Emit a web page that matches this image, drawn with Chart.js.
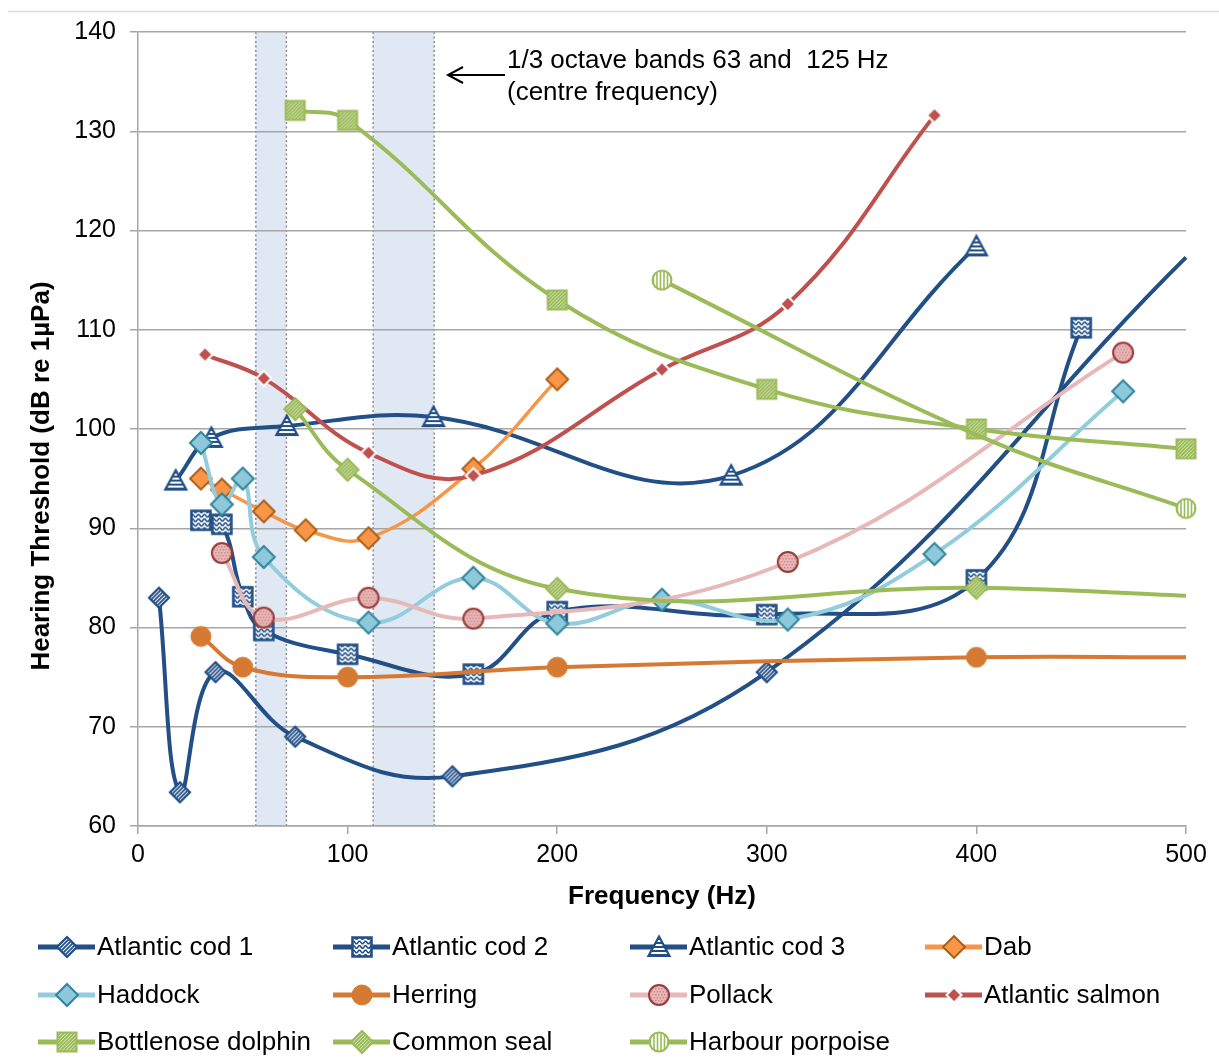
<!DOCTYPE html>
<html><head><meta charset="utf-8">
<script src="https://cdn.jsdelivr.net/npm/chart.js@4.4.1/dist/chart.umd.min.js"></script>
<style>html,body{margin:0;padding:0;background:#fff;}canvas{display:block;}</style>
</head><body>
<canvas id="c" width="1219" height="1057"></canvas>
<script>
// ---------- DATA ----------
const seriesNames = ["Atlantic cod 1","Atlantic cod 2","Atlantic cod 3","Dab","Haddock","Herring","Pollack","Atlantic salmon","Bottlenose dolphin","Common seal","Harbour porpoise"];
const cod1Freq = [10, 20, 37, 75, 150, 300, 500];
const cod1Level = [83, 63.4, 75.5, 69, 65, 75.5, 117.3];
const cod2Freq = [30, 40, 50, 60, 100, 160, 200, 300, 400, 450];
const cod2Level = [90.8, 90.4, 83.1, 79.7, 77.3, 75.3, 81.6, 81.3, 84.8, 110.2];
const cod3Freq = [18, 35, 71, 141, 283, 400];
const cod3Level = [94.8, 99.1, 100.3, 101.2, 95.3, 118.4];
const dabFreq = [30, 40, 60, 80, 110, 160, 200];
const dabLevel = [95, 93.9, 91.7, 89.8, 89, 96, 105];
const haddockFreq = [30, 40, 50, 60, 110, 160, 200, 250, 310, 380, 470];
const haddockLevel = [98.6, 92.4, 95.0, 87.1, 80.5, 85, 80.4, 82.8, 80.8, 87.4, 103.8];
const herringFreq = [30, 50, 100, 200, 400, 500];
const herringLevel = [79.1, 76, 75, 76, 77, 77];
const pollackFreq = [40, 60, 110, 160, 310, 470];
const pollackLevel = [87.5, 81, 83, 80.9, 86.6, 107.7];
const salmonFreq = [32, 60, 110, 160, 250, 310, 380];
const salmonLevel = [107.5, 105.1, 97.6, 95.3, 106, 112.6, 131.6];
const dolphinFreq = [75, 100, 200, 300, 400, 500];
const dolphinLevel = [132.1, 131.1, 113, 104, 100, 98];
const sealFreq = [75, 100, 200, 400, 500];
const sealLevel = [102, 95.9, 83.9, 84, 83.2];
const porpoiseFreq = [250, 400, 500];
const porpoiseLevel = [115, 99.4, 92];
// points whose marker is not visible in the reference (line only)
const unmarkedPoints = {"Atlantic cod 1":[500], "Herring":[500], "Common seal":[500], "Harbour porpoise":[400]};
const xTickValues = [0, 100, 200, 300, 400, 500];
const yTickValues = [60, 70, 80, 90, 100, 110, 120, 130, 140];
const octaveBands = [[56.2, 70.8], [112.2, 141.3]];
const annotationLines = ["1/3 octave bands 63 and  125 Hz", "(centre frequency)"];
const xTitle = "Frequency (Hz)";
const yTitle = "Hearing Threshold (dB re 1µPa)";

// ---------- STYLES ----------
const FONT = "'Liberation Sans', Arial, sans-serif";
const BLUE = '#214F86', GREEN = '#9BBB59';

function mkCanvas(s){const c=document.createElement('canvas');c.width=s;c.height=s;return c;}
function marker(spec){
  const s = spec.size, c = mkCanvas(s), ctx = c.getContext('2d');
  const cx = s/2, cy = s/2, r = spec.r;
  const path = () => {
    ctx.beginPath();
    if (spec.shape==='diamond'){ctx.moveTo(cx,cy-r);ctx.lineTo(cx+r,cy);ctx.lineTo(cx,cy+r);ctx.lineTo(cx-r,cy);ctx.closePath();}
    else if (spec.shape==='square'){ctx.rect(cx-r,cy-r,2*r,2*r);}
    else if (spec.shape==='triangle'){ctx.moveTo(cx,cy-r);ctx.lineTo(cx+r,cy+r*0.85);ctx.lineTo(cx-r,cy+r*0.85);ctx.closePath();}
    else {ctx.arc(cx,cy,r,0,Math.PI*2);}
  };
  path(); ctx.fillStyle = spec.fill; ctx.fill();
  if (spec.pattern){ctx.save();path();ctx.clip();spec.pattern(ctx,s);ctx.restore();}
  if (spec.stroke){path();ctx.lineWidth=spec.lw;ctx.strokeStyle=spec.stroke;ctx.lineJoin='miter';ctx.stroke();}
  return c;
}
const diag = (color,gap,w)=>(ctx,s)=>{ctx.strokeStyle=color;ctx.lineWidth=w;for(let k=-s;k<2*s;k+=gap){ctx.beginPath();ctx.moveTo(k,s);ctx.lineTo(k+s,0);ctx.stroke();}};
const hl = (color,gap,w)=>(ctx,s)=>{ctx.strokeStyle=color;ctx.lineWidth=w;for(let y=1;y<s;y+=gap){ctx.beginPath();ctx.moveTo(0,y);ctx.lineTo(s,y);ctx.stroke();}};
const vl = (color,gap,w)=>(ctx,s)=>{ctx.strokeStyle=color;ctx.lineWidth=w;for(let x=1;x<s;x+=gap){ctx.beginPath();ctx.moveTo(x,0);ctx.lineTo(x,s);ctx.stroke();}};
const waves = (color)=>(ctx,s)=>{ctx.strokeStyle=color;ctx.lineWidth=1.5;for(let y=4;y<s;y+=4.5){ctx.beginPath();for(let x=0;x<=s;x++){const yy=y+1.4*Math.sin(x/3*Math.PI);if(x===0)ctx.moveTo(x,yy);else ctx.lineTo(x,yy);}ctx.stroke();}};
const dots = (color)=>(ctx,s)=>{ctx.fillStyle=color;for(let y=0;y<s;y+=3){for(let x=(y/3)%2*1.5;x<s;x+=3){ctx.fillRect(x,y,1.5,1.5);}}};

const markers = {
  "Atlantic cod 1": marker({size:26,shape:'diamond',r:10,fill:'#fff',pattern:diag(BLUE,4,1.8),stroke:BLUE,lw:2.2}),
  "Atlantic cod 2": marker({size:26,shape:'square',r:9.5,fill:'#fff',pattern:waves(BLUE),stroke:BLUE,lw:2.6}),
  "Atlantic cod 3": marker({size:26,shape:'triangle',r:10.5,fill:'#fff',pattern:hl(BLUE,4,1.8),stroke:BLUE,lw:2.2}),
  "Dab": marker({size:28,shape:'diamond',r:11,fill:'#F79646',stroke:'#A85A14',lw:1.8}),
  "Haddock": marker({size:28,shape:'diamond',r:11,fill:'#8DC9DB',stroke:'#31859C',lw:2}),
  "Herring": marker({size:26,shape:'circle',r:10,fill:'#D67A33',stroke:'#D67A33',lw:1}),
  "Pollack": marker({size:26,shape:'circle',r:10,fill:'#E6B9B8',pattern:dots('#CF8A88'),stroke:'#973A3A',lw:2}),
  "Atlantic salmon": marker({size:20,shape:'diamond',r:7.5,fill:'#C0504D',stroke:'#fff',lw:2}),
  "Bottlenose dolphin": marker({size:26,shape:'square',r:9.5,fill:'#fff',pattern:diag(GREEN,3.5,2),stroke:GREEN,lw:2}),
  "Common seal": marker({size:28,shape:'diamond',r:11,fill:'#fff',pattern:diag(GREEN,3.5,2),stroke:GREEN,lw:2}),
  "Harbour porpoise": marker({size:26,shape:'circle',r:9.5,fill:'#fff',pattern:vl(GREEN,3.5,1.6),stroke:GREEN,lw:2})
};
const lineStyle = {
  "Atlantic cod 1": {color:BLUE,w:4},
  "Atlantic cod 2": {color:BLUE,w:4},
  "Atlantic cod 3": {color:BLUE,w:4},
  "Dab": {color:'#F79646',w:3.5},
  "Haddock": {color:'#93CDDD',w:4},
  "Herring": {color:'#D67A33',w:4},
  "Pollack": {color:'#E6B9B8',w:4},
  "Atlantic salmon": {color:'#C0504D',w:4},
  "Bottlenose dolphin": {color:GREEN,w:4},
  "Common seal": {color:GREEN,w:4},
  "Harbour porpoise": {color:GREEN,w:4}
};
const seriesData = {
  "Atlantic cod 1":[cod1Freq,cod1Level], "Atlantic cod 2":[cod2Freq,cod2Level], "Atlantic cod 3":[cod3Freq,cod3Level],
  "Dab":[dabFreq,dabLevel], "Haddock":[haddockFreq,haddockLevel], "Herring":[herringFreq,herringLevel],
  "Pollack":[pollackFreq,pollackLevel], "Atlantic salmon":[salmonFreq,salmonLevel],
  "Bottlenose dolphin":[dolphinFreq,dolphinLevel], "Common seal":[sealFreq,sealLevel], "Harbour porpoise":[porpoiseFreq,porpoiseLevel]
};

const datasets = seriesNames.map((name,i)=>{
  const [f,l] = seriesData[name];
  const hidden = unmarkedPoints[name] || [];
  return {
    label: name,
    data: f.map((x,k)=>({x:x,y:l[k]})),
    borderColor: lineStyle[name].color,
    borderWidth: lineStyle[name].w,
    backgroundColor: lineStyle[name].color,
    pointStyle: markers[name],
    pointRadius: (ctx)=> (ctx.raw && hidden.includes(ctx.raw.x)) ? 0 : 10,
    pointHoverRadius: 10,
    tension: 0.4,
    fill: false,
    clip: false,
    order: seriesNames.length - i
  };
});

const decor = {
  id:'decor',
  beforeDraw(chart){
    const {ctx, chartArea:a, scales:{x}} = chart;
    ctx.save();
    ctx.strokeStyle='#D9D9D9'; ctx.lineWidth=1.5;
    ctx.beginPath(); ctx.moveTo(8,11.5); ctx.lineTo(1219,11.5); ctx.stroke();
    octaveBands.forEach(([lo,hi])=>{
      const x0=x.getPixelForValue(lo), x1=x.getPixelForValue(hi);
      ctx.fillStyle='#E0E8F4'; ctx.fillRect(x0,a.top,x1-x0,a.bottom-a.top);
      ctx.strokeStyle='#8C8C8C'; ctx.lineWidth=1.5; ctx.setLineDash([2,2.5]);
      [x0,x1].forEach(px=>{ctx.beginPath();ctx.moveTo(px,a.top);ctx.lineTo(px,a.bottom);ctx.stroke();});
      ctx.setLineDash([]);
    });
    ctx.restore();
  },
  afterDraw(chart){
    const {ctx, chartArea:a} = chart;
    ctx.save();
    // annotation arrow + text
    ctx.strokeStyle='#000'; ctx.lineWidth=2;
    ctx.beginPath(); ctx.moveTo(505,75); ctx.lineTo(448,75); ctx.stroke();
    ctx.beginPath(); ctx.moveTo(463,67); ctx.lineTo(448,75); ctx.lineTo(463,83); ctx.stroke();
    ctx.fillStyle='#000'; ctx.font='26px '+FONT; ctx.textBaseline='middle'; ctx.textAlign='left';
    ctx.fillText(annotationLines[0], 507, 61);
    ctx.fillText(annotationLines[1], 507, 93);
    // axis titles
    ctx.font='bold 26px '+FONT; ctx.textAlign='center';
    ctx.fillText(xTitle, (a.left+a.right)/2, 897);
    ctx.save(); ctx.translate(42, 476); ctx.rotate(-Math.PI/2); ctx.fillText(yTitle, 0, 0); ctx.restore();
    // legend
    const cols=[38,333,630,925], rows=[947,995,1042];
    ctx.font='26px '+FONT; ctx.textAlign='left';
    seriesNames.forEach((name,i)=>{
      const x0=cols[i%4], y=rows[Math.floor(i/4)];
      ctx.strokeStyle=lineStyle[name].color; ctx.lineWidth=5;
      ctx.beginPath(); ctx.moveTo(x0,y); ctx.lineTo(x0+57,y); ctx.stroke();
      const m=markers[name];
      ctx.drawImage(m, x0+29-m.width/2, y-m.height/2);
      ctx.fillStyle='#000'; ctx.fillText(name, x0+59, y+1);
    });
    ctx.restore();
  }
};

new Chart(document.getElementById('c'), {
  type:'line',
  data:{datasets},
  options:{
    responsive:false, animation:false, devicePixelRatio:1, events:[],
    layout:{padding:{left:0,right:33,top:32,bottom:142}},
    plugins:{legend:{display:false}, tooltip:{enabled:false}},
    scales:{
      x:{type:'linear', min:0, max:500,
        afterBuildTicks:(s)=>{s.ticks=xTickValues.map(v=>({value:v}));},
        afterFit:(s)=>{s.height=89;},
        grid:{drawOnChartArea:false, drawTicks:true, tickLength:8, color:'#A6A6A6', lineWidth:1.5},
        border:{display:true, color:'#A6A6A6', width:1.5},
        ticks:{color:'#000', font:{family:FONT, size:25}, padding:6, maxRotation:0}
      },
      y:{type:'linear', min:60, max:140,
        afterBuildTicks:(s)=>{s.ticks=yTickValues.map(v=>({value:v}));},
        afterFit:(s)=>{s.width=138;},
        grid:{drawOnChartArea:true, drawTicks:true, tickLength:8, color:'#A6A6A6', lineWidth:1.5},
        border:{display:true, color:'#A6A6A6', width:1.5},
        ticks:{color:'#000', font:{family:FONT, size:25}, padding:14}
      }
    }
  },
  plugins:[decor]
});
</script>
</body></html>
